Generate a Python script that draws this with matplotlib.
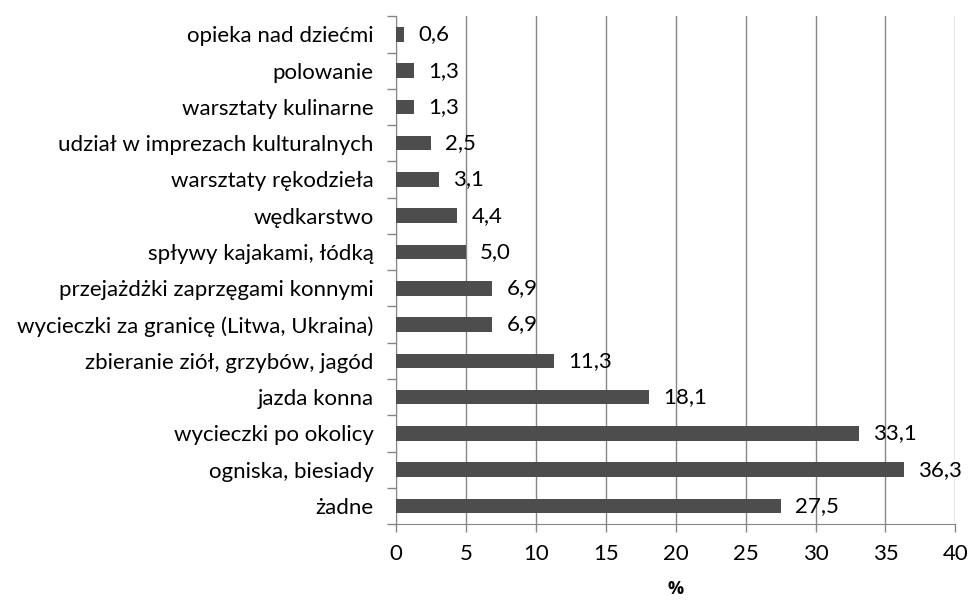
import matplotlib
matplotlib.use('Agg')
import matplotlib.pyplot as plt
import numpy as np

plt.rcParams['font.family'] = ['Lato', 'DejaVu Sans']

# categories top -> bottom
labels = ['opieka nad dziećmi', 'polowanie', 'warsztaty kulinarne',
          'udział w imprezach kulturalnych', 'warsztaty rękodzieła',
          'wędkarstwo', 'spływy kajakami, łódką',
          'przejażdżki zaprzęgami konnymi',
          'wycieczki za granicę (Litwa, Ukraina)',
          'zbieranie ziół, grzybów, jagód', 'jazda konna',
          'wycieczki po okolicy', 'ogniska, biesiady', 'żadne']
values = [0.6, 1.3, 1.3, 2.5, 3.1, 4.4, 5.0, 6.9, 6.9, 11.3, 18.1, 33.1, 36.3, 27.5]

fs = 16

fig = plt.figure(figsize=(9.68, 6.01), dpi=100)
ax = fig.add_axes([0.409, 0.128, 0.578, 0.845])

y = np.arange(len(labels))[::-1]
bars = ax.barh(y, values, height=0.4, color='#4d4d4d', zorder=3)

ax.set_xlim(0, 40)
ax.set_ylim(-0.5, len(labels) - 0.5)
ax.set_xticks(np.arange(0, 41, 5))
ax.set_yticks(y)
ax.set_yticklabels(labels)
ax.tick_params(axis='y', length=0, pad=16, labelsize=fs)
ax.set_yticks(np.arange(-0.5, len(labels), 1), minor=True)
ax.tick_params(axis='y', which='minor', length=6.5, color='#868686', width=1)
ax.tick_params(axis='x', length=6, color='#868686', width=1, labelsize=fs, pad=8)

ax.grid(axis='x', color='#868686', linewidth=1, zorder=0)
for s in ['top', 'right']:
    ax.spines[s].set_visible(False)
for s in ['left', 'bottom']:
    ax.spines[s].set_color('#868686')

for b, v in zip(bars, values):
    ax.text(v + 1.0, b.get_y() + b.get_height() / 2, f'{v:.1f}'.replace('.', ','),
            va='center', ha='left', fontsize=fs)

ax.set_xlabel('%', fontweight='bold', fontsize=13, labelpad=12,
              family=['Open Sans', 'DejaVu Sans'])

fig.savefig('out.png', dpi=100)
